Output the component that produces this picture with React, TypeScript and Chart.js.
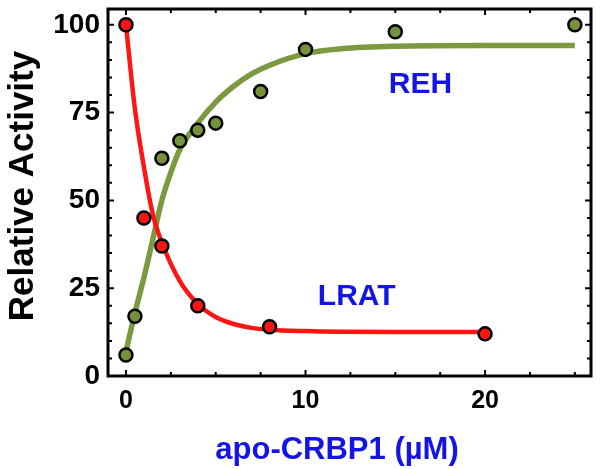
import React, { useEffect, useRef } from 'react';
import { Chart, registerables } from 'chart.js';

Chart.register(...registerables);

// measured points
const lratX = [0, 1, 2, 4, 8, 20];
const lratY = [100, 45, 37, 20, 14, 12];
const rehX = [0, 0.5, 2, 3, 4, 5, 7.5, 10, 15, 25];
const rehY = [6, 17, 62, 67, 70, 72, 81, 93, 98, 100];

// fitted curves
const lratFitX = [0, 0.5, 1, 1.5, 2, 3, 4, 5, 6, 7, 8, 10, 12, 15, 20];
const lratFitY = [100, 76, 59.5, 46, 38, 27, 20.5, 16.8, 14.8, 13.7, 13.2, 12.8, 12.6, 12.5, 12.5];
const rehFitX = [0, 0.5, 1, 1.5, 2, 2.5, 3, 4, 5, 6, 7, 8, 10, 12, 15, 20, 25];
const rehFitY = [7, 18, 28, 39, 50, 58, 64.5, 72, 78, 82.5, 86, 88.5, 91.8, 93.2, 93.9, 94.1, 94.1];

// axes
const xTickLabels = [0, 10, 20];
const yTickLabels = [0, 25, 50, 75, 100];
const xMinorTicks = [2.5, 5, 7.5, 12.5, 15, 17.5, 22.5, 25];
const yMinorTicks = [5, 10, 15, 20, 30, 35, 40, 45, 55, 60, 65, 70, 80, 85, 90, 95];

const xTitle = 'apo-CRBP1 (\u00b5M)';
const yTitle = 'Relative Activity';
const seriesLabels = ['REH', 'LRAT'];
const seriesLabelX = [16.4, 12.85];
const seriesLabelY = [83, 22.5];

const FONT = '"Liberation Sans", Arial, Helvetica, sans-serif';
const BLUE = '#1414e6';
const RED = '#ff1414';
const GREEN_LINE = '#7b9a3f';
const GREEN_FILL = '#76933c';

const framePlugin = {
  id: 'framePlugin',
  afterDatasetsDraw(chart: any) {
    const { ctx, chartArea, scales } = chart;
    const { left, right, top, bottom } = chartArea;
    const xs = scales.x;
    const ys = scales.y;
    ctx.save();
    ctx.strokeStyle = '#000';
    ctx.lineCap = 'butt';
    ctx.lineWidth = 2;
    const tickX = (v: number, len: number) => {
      const px = xs.getPixelForValue(v);
      ctx.beginPath();
      ctx.moveTo(px, bottom);
      ctx.lineTo(px, bottom - len);
      ctx.moveTo(px, top);
      ctx.lineTo(px, top + len);
      ctx.stroke();
    };
    const tickY = (v: number, len: number) => {
      const py = ys.getPixelForValue(v);
      ctx.beginPath();
      ctx.moveTo(left, py);
      ctx.lineTo(left + len, py);
      ctx.moveTo(right, py);
      ctx.lineTo(right - len, py);
      ctx.stroke();
    };
    xTickLabels.forEach((v) => tickX(v, 6));
    xMinorTicks.forEach((v) => tickX(v, 4));
    yTickLabels.forEach((v) => tickY(v, 6));
    yMinorTicks.forEach((v) => tickY(v, 4));
    ctx.lineWidth = 3;
    ctx.strokeRect(left, top, right - left, bottom - top);

    // series annotations
    ctx.fillStyle = BLUE;
    ctx.font = `bold 30px ${FONT}`;
    ctx.textAlign = 'center';
    ctx.textBaseline = 'middle';
    seriesLabels.forEach((t, i) => {
      ctx.fillText(t, xs.getPixelForValue(seriesLabelX[i]), ys.getPixelForValue(seriesLabelY[i]));
    });

    // x title
    ctx.font = `bold 31px ${FONT}`;
    ctx.textBaseline = 'alphabetic';
    ctx.fillText(xTitle, 337, 459);

    // y title
    ctx.fillStyle = '#000';
    ctx.font = `bold 35px ${FONT}`;
    ctx.translate(33, 186);
    ctx.rotate(-Math.PI / 2);
    ctx.fillText(yTitle, 0, 0);
    ctx.restore();
  },
};

export default function App() {
  const ref = useRef<HTMLCanvasElement | null>(null);
  useEffect(() => {
    document.body.style.margin = '0';
    if (!ref.current) return;
    const pts = (xa: number[], ya: number[]) => xa.map((x, i) => ({ x, y: ya[i] }));
    const chart = new Chart(ref.current, {
      type: 'scatter',
      data: {
        datasets: [
          {
            label: 'LRAT',
            data: pts(lratX, lratY),
            backgroundColor: RED,
            borderColor: '#000',
            borderWidth: 2.5,
            pointRadius: 6.5,
            showLine: false,
            order: 0,
          },
          {
            label: 'REH',
            data: pts(rehX, rehY),
            backgroundColor: GREEN_FILL,
            borderColor: '#000',
            borderWidth: 2.5,
            pointRadius: 6.5,
            showLine: false,
            order: 1,
          },
          {
            label: 'LRAT fit',
            data: pts(lratFitX, lratFitY),
            showLine: true,
            borderColor: RED,
            borderWidth: 4.5,
            pointRadius: 0,
            cubicInterpolationMode: 'monotone',
            order: 2,
          },
          {
            label: 'REH fit',
            data: pts(rehFitX, rehFitY),
            showLine: true,
            borderColor: GREEN_LINE,
            borderWidth: 5.5,
            pointRadius: 0,
            cubicInterpolationMode: 'monotone',
            order: 3,
          },
        ] as any,
      },
      options: {
        animation: false,
        responsive: false,
        maintainAspectRatio: false,
        layout: { padding: { left: 0, right: 8, top: 7, bottom: 0 } },
        plugins: {
          legend: { display: false },
          tooltip: { enabled: false },
        },
        scales: {
          x: {
            type: 'linear',
            min: -1,
            max: 25.9,
            border: { display: false },
            grid: { display: false, drawTicks: false },
            afterBuildTicks: (s: any) => {
              s.ticks = xTickLabels.map((v) => ({ value: v }));
            },
            afterFit: (s: any) => {
              s.height = 93;
              s.paddingLeft = 0;
              s.paddingRight = 0;
              s.paddingTop = 0;
              s.paddingBottom = 0;
            },
            ticks: {
              color: '#000',
              padding: 10,
              font: { family: FONT, size: 25, weight: 'bold' },
            },
          },
          y: {
            type: 'linear',
            min: 0,
            max: 104.5,
            border: { display: false },
            grid: { display: false, drawTicks: false },
            afterBuildTicks: (s: any) => {
              s.ticks = yTickLabels.map((v) => ({ value: v }));
            },
            afterFit: (s: any) => {
              s.width = 108;
              s.paddingLeft = 0;
              s.paddingRight = 0;
              s.paddingTop = 0;
              s.paddingBottom = 0;
            },
            ticks: {
              color: '#000',
              padding: 8,
              font: { family: FONT, size: 28, weight: 'bold' },
            },
          },
        },
      } as any,
      plugins: [framePlugin],
    });
    return () => chart.destroy();
  }, []);
  return (
    <div style={{ width: 600, height: 469, background: '#fff' }}>
      <canvas ref={ref} width={600} height={469} style={{ display: 'block' }} />
    </div>
  );
}
